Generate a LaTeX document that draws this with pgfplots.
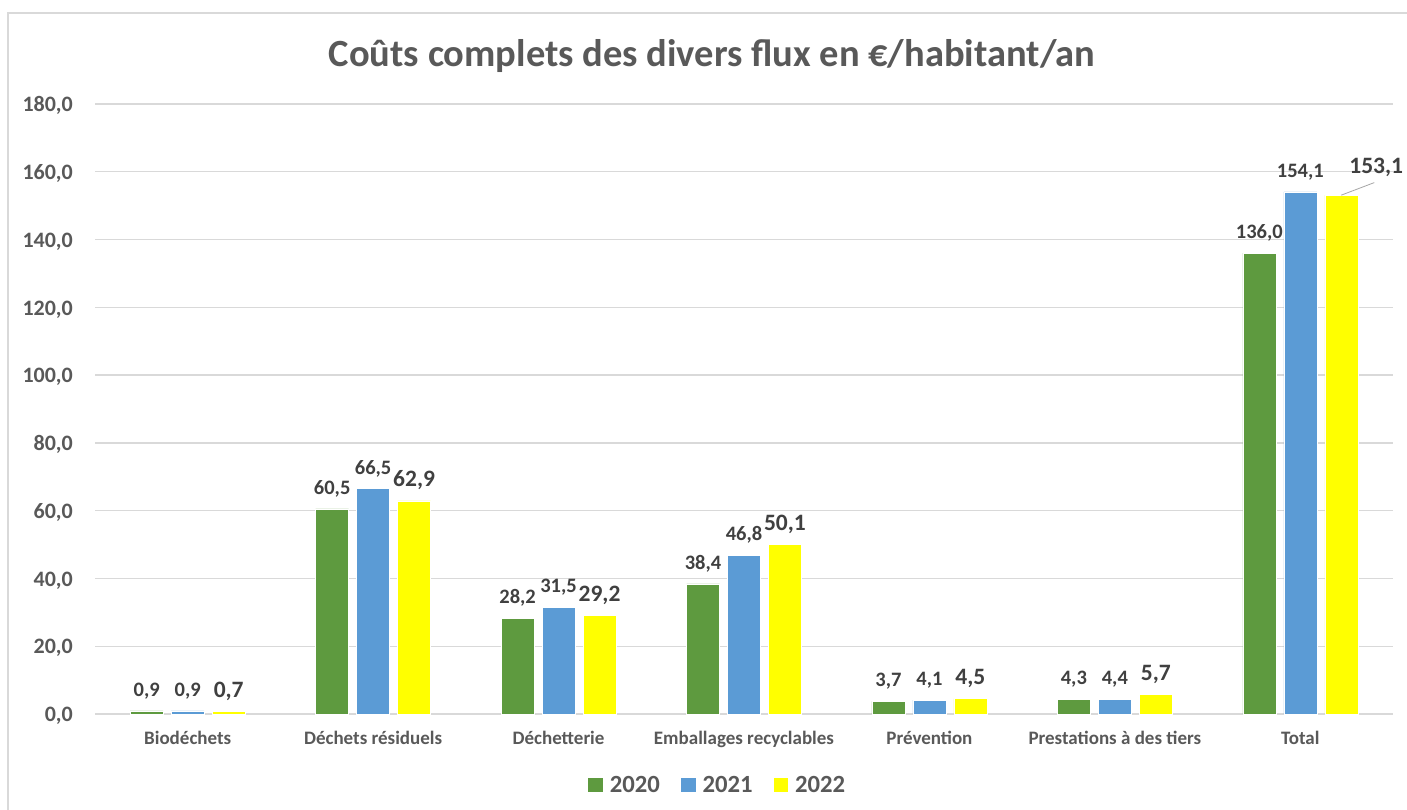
\documentclass[border=0pt]{standalone}
\usepackage{fontspec}
\setmainfont{Carlito}
\usepackage{pgfplots}
\pgfplotsset{compat=1.18}
\definecolor{cgreen}{HTML}{5E9A3F}
\definecolor{cblue}{HTML}{5B9BD5}
\definecolor{cyellow}{HTML}{FFFF00}
\definecolor{tgrey}{HTML}{595959}
\definecolor{dgrey}{HTML}{404040}
\definecolor{gridc}{HTML}{D9D9D9}
\newcommand{\fs}[1]{\fontsize{#1pt}{#1pt}\selectfont\bfseries}
\begin{document}
\begin{tikzpicture}
\fill[white] (0,0) rectangle (1407pt,810pt);
\path[use as bounding box] (0,0) rectangle (1407pt,810pt);
\draw[gridc, line width=1.2pt] (8pt,0pt) -- (8pt,797pt) -- (1407pt,797pt);
\node[anchor=base, inner sep=0pt, text=tgrey, font=\fs{38.5}] at (712pt,743.3pt) {Coûts complets des divers flux en €/habitant/an};
\begin{axis}[
  at={(95pt,96pt)}, anchor=south west,
  scale only axis, width=1298pt, height=610pt,
  ybar, bar width=0.178,
  xmin=-0.5, xmax=6.5, ymin=0, ymax=180,
  xtick={0,1,2,3,4,5,6},
  xticklabels={Biodéchets,Déchets résiduels,Déchetterie,Emballages recyclables,Prévention,Prestations à des tiers,Total},
  ytick={0,20,40,60,80,100,120,140,160,180},
  yticklabels={{0,0},{20,0},{40,0},{60,0},{80,0},{100,0},{120,0},{140,0},{160,0},{180,0}},
  axis line style={draw=none},
  major tick length=0pt,
  ymajorgrids, grid style={gridc, line width=1.3pt},
  xticklabel style={anchor=base, inner sep=0pt, yshift=-30.5pt, text=tgrey, font=\fs{19}},
  yticklabel style={anchor=base east, inner sep=0pt, xshift=-22pt, yshift=-7.7pt, text=tgrey, font=\fs{22}},
  nodes near coords={\pgfmathprintnumber[fixed,fixed zerofill,precision=1,use comma,assume math mode=true]{\pgfplotspointmeta}},
  nodes near coords align={anchor=base},
  every node near coord/.append style={inner sep=0pt, text=dgrey},
  legend style={at={(0.479,-0.1164)}, anchor=center, draw=none, fill=none, legend columns=-1, inner sep=0pt,
    nodes={inner sep=0pt, text=tgrey, font=\fs{24.7}},
    /tikz/every odd column/.append style={column sep=7pt},
    /tikz/every even column/.append style={column sep=21pt}},
  legend image code/.code={\fill[#1,draw=none] (0pt,-7.2pt) rectangle (14.6pt,7.4pt);},
  clip=false,
]
\addplot[fill=cgreen, draw=white, line width=0.5pt, bar shift=-0.221,
  every node near coord/.append style={yshift=14.5pt, font=\fs{20.5}}]
  coordinates {(0,0.9) (1,60.5) (2,28.2) (3,38.4) (4,3.7) (5,4.3) (6,136.0)};
\addplot[fill=cblue, draw=white, line width=0.5pt, bar shift=0,
  every node near coord/.append style={yshift=14.5pt, font=\fs{20.5}}]
  coordinates {(0,0.9) (1,66.5) (2,31.5) (3,46.8) (4,4.1) (5,4.4) (6,154.1)};
\addplot[fill=cyellow, draw=white, line width=0.5pt, bar shift=0.221,
  visualization depends on={\thisrow{dx} \as \dx},
  visualization depends on={\thisrow{dy} \as \dy},
  every node near coord/.append style={xshift=\dx pt, yshift=14pt+\dy pt, font=\fs{23.5}}]
  table[x=x, y=y] {
x y dx dy
0 0.7 0 0
1 62.9 0 0
2 29.2 0 0
3 50.1 0 0
4 4.5 0 0
5 5.7 0 0
6 153.1 35 7.7
};
\legend{2020,2021,2022}
\draw[gray!70, line width=0.8pt] (axis cs:6.221,153.1) -- (axis cs:6.399,156.8);
\end{axis}
\end{tikzpicture}
\end{document}
